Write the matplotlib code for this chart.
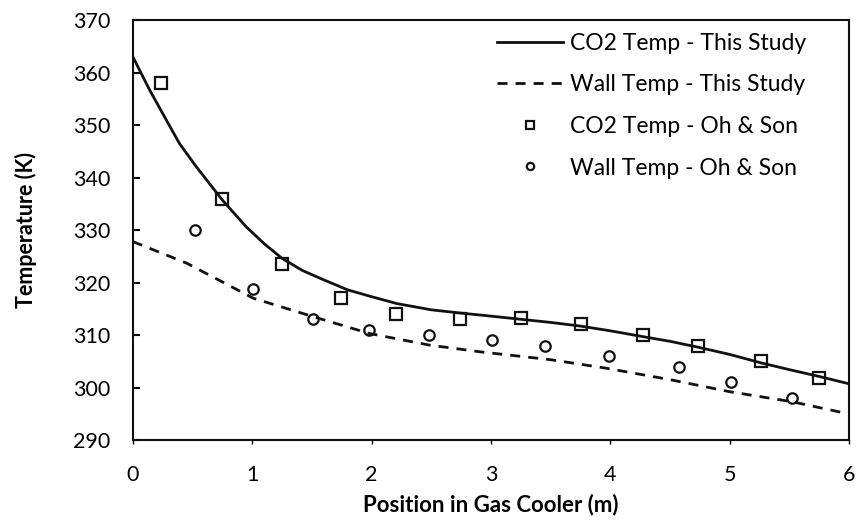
import matplotlib
matplotlib.use("Agg")
import matplotlib.pyplot as plt

plt.rcParams['font.family'] = ['Lato', 'DejaVu Sans']

# model curves (this study)
x_line = [0, 0.14, 0.25, 0.39, 0.53, 0.75, 0.95, 1.1, 1.25, 1.42, 1.6, 1.8,
          2.0, 2.21, 2.5, 2.74, 3.0, 3.25, 3.5, 3.75, 4.0, 4.27, 4.5, 4.73, 5.0, 5.26,
          5.5, 5.75, 6.0]
co2_line = [363, 356.7, 352.2, 346.5, 342.1, 335.7, 330.6, 327.4, 324.6, 322.3, 320.5, 318.6,
            317.3, 316.0, 314.8, 314.2, 313.6, 313.0, 312.4, 311.7,
            310.8, 309.7, 308.8, 307.7, 306.3, 304.7, 303.4, 302.1, 300.7]

x_wall = [0, 0.45, 1.01, 1.51, 1.98, 2.48, 2.91, 3.5, 3.96, 4.5, 5.0, 5.52, 5.95]
wall_line = [327.8, 323.7, 317.0, 313.5, 310.3, 308.1, 306.8, 305.3, 303.7, 301.5, 299.2, 297.3, 295.2]

# Oh & Son data
x_sq = [0.24, 0.75, 1.25, 1.74, 2.2, 2.74, 3.25, 3.75, 4.27, 4.73, 5.26, 5.75]
co2_oh = [358, 336, 323.6, 317, 314, 313, 313.2, 312.1, 310, 308, 305, 301.8]

x_ci = [0.52, 1.01, 1.51, 1.98, 2.48, 3.01, 3.45, 3.99, 4.57, 5.01, 5.52]
wall_oh = [330, 318.8, 313, 311, 310, 309, 308, 306, 304, 301, 298]

fig = plt.figure(figsize=(8.57, 5.27), dpi=100)
ax = fig.add_axes([0.155, 0.165, 0.836, 0.797])

ax.plot(x_line, co2_line, color='#111111', lw=2, label='CO2 Temp - This Study')
ax.plot(x_wall, wall_line, color='#111111', lw=2, ls=(0, (3.6, 2.9)),
        label='Wall Temp - This Study')
ax.plot(x_sq, co2_oh, ls='none', marker='s', ms=8.5, mfc='none', mec='#111111', mew=1.6,
        label='CO2 Temp - Oh & Son')
ax.plot(x_ci, wall_oh, ls='none', marker='o', ms=7.5, mfc='none', mec='#111111', mew=1.6,
        label='Wall Temp - Oh & Son')

ax.set_xlim(0, 6)
ax.set_ylim(290, 370)
ax.set_xticks(range(0, 7))
ax.set_yticks(range(290, 371, 10))
ax.tick_params(axis='y', direction='in', length=5, width=1.5, labelsize=15.5, pad=16)
ax.tick_params(axis='x', direction='out', length=3, width=1, labelsize=15.5, pad=15)
for s in ax.spines.values():
    s.set_linewidth(1.5)
    s.set_color('#111111')

ax.set_xlabel('Position in Gas Cooler (m)', fontsize=16, fontweight='bold', labelpad=6)
ax.set_ylabel('Temperature (K)', fontsize=15.5, fontweight='bold', labelpad=26)

ax.legend(loc='upper right', bbox_to_anchor=(0.94, 0.97), frameon=False, fontsize=16.5,
          handlelength=2.9, handletextpad=0.3, labelspacing=0.9, borderaxespad=0,
          borderpad=0, markerscale=0.7)

fig.savefig('out.png', dpi=100)
